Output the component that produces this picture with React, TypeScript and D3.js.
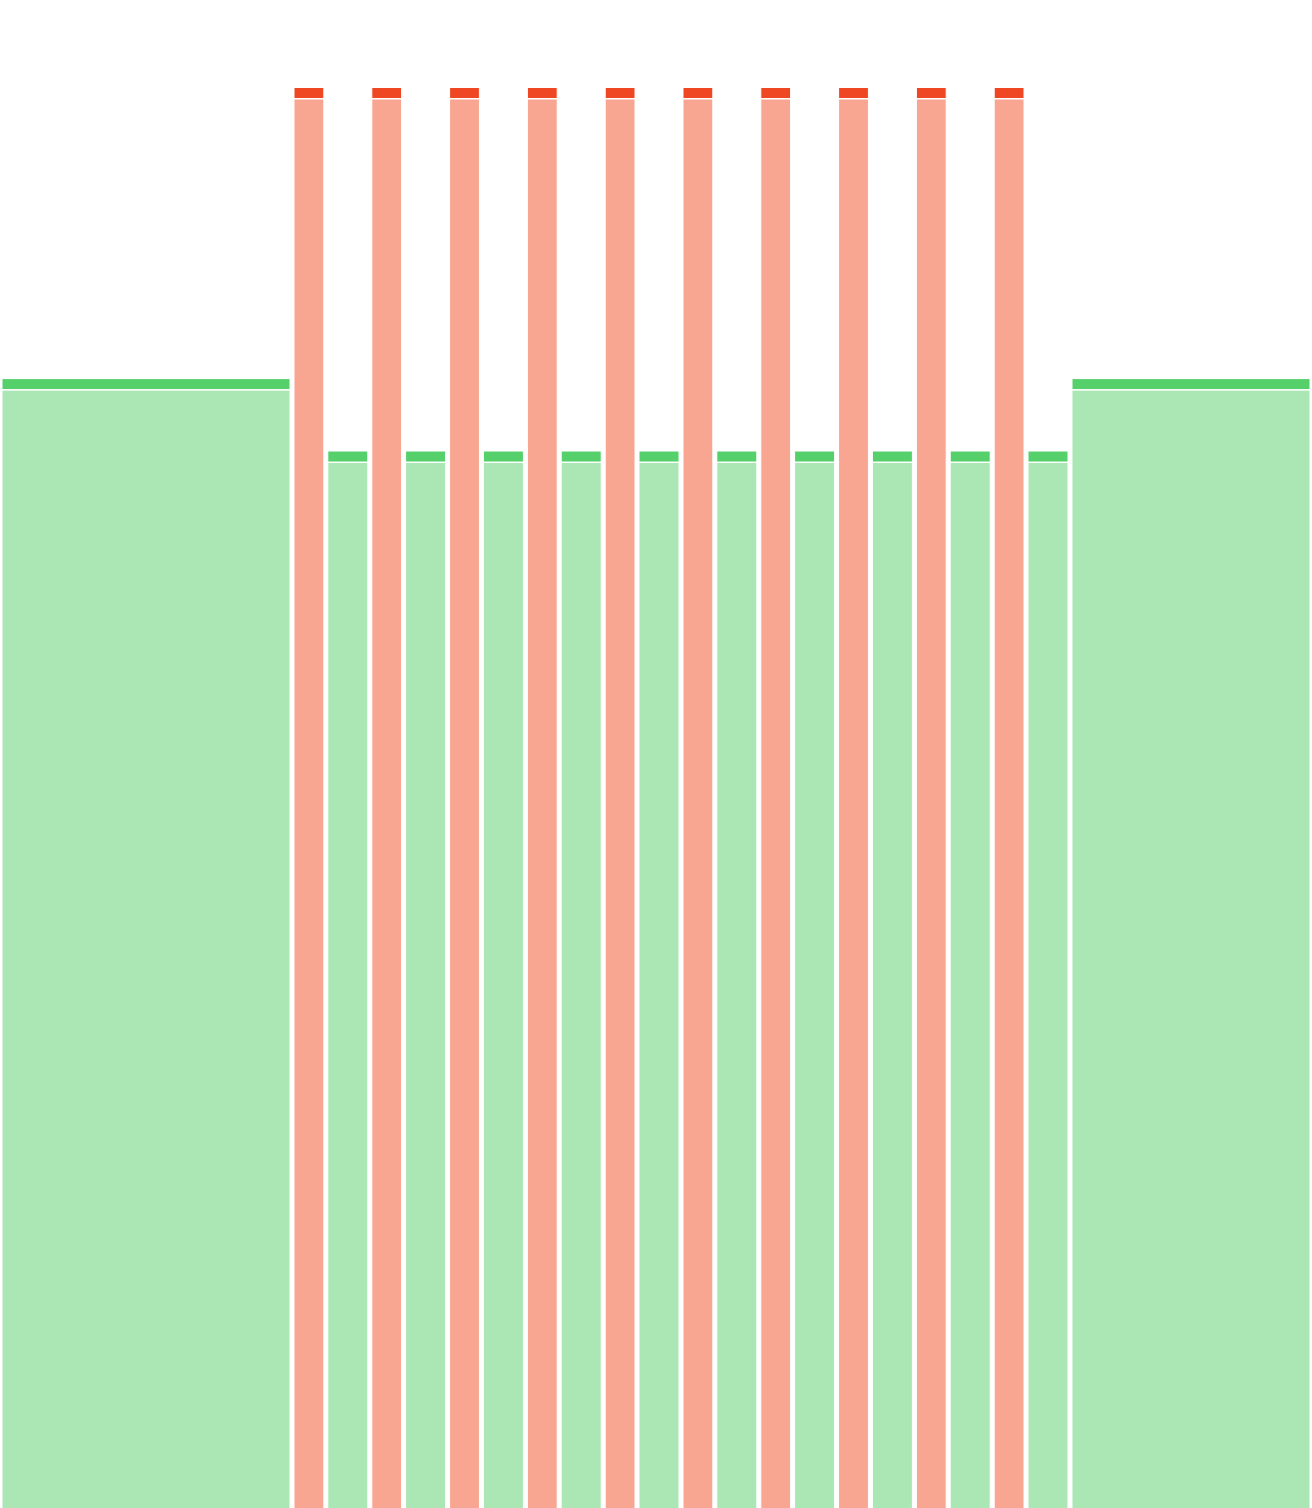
import React from 'react';
import * as d3 from 'd3';

// Segments along the timeline: kind, duration and level
const segmentKinds = [
    'ok',
    'alert', 'ok', 'alert', 'ok', 'alert', 'ok', 'alert', 'ok', 'alert', 'ok',
    'alert', 'ok', 'alert', 'ok', 'alert', 'ok', 'alert', 'ok', 'alert', 'ok',
    'ok',
];
const segmentDurations = [
    292,
    33.8, 44, 33.8, 44, 33.8, 44, 33.8, 44, 33.8, 44,
    33.8, 44, 33.8, 44, 33.8, 44, 33.8, 44, 33.8, 44,
    242,
];
const segmentValues = [
    79.5,
    100, 74.4, 100, 74.4, 100, 74.4, 100, 74.4, 100, 74.4,
    100, 74.4, 100, 74.4, 100, 74.4, 100, 74.4, 100, 74.4,
    79.5,
];

const colors: Record<string, { cap: string; body: string }> = {
    ok: { cap: '#55d06a', body: '#aae7b4' },
    alert: { cap: '#ef4723', body: '#f8a591' },
};

const WIDTH = 1312;
const HEIGHT = 1508;

export default function App() {
    const starts = d3.cumsum([0, ...segmentDurations.slice(0, -1)]);
    const total = d3.sum(segmentDurations);

    const xScale = d3.scaleLinear().domain([0, total]).range([0, WIDTH]);
    const yScale = d3.scaleLinear().domain([0, 100]).range([HEIGHT, 88]);

    const capHeight = 11;
    const inset = 2;

    return (
        <svg
            width={WIDTH}
            height={HEIGHT}
            style={{ position: 'absolute', left: 0, top: 0, display: 'block' }}
        >
            <rect width={WIDTH} height={HEIGHT} fill="#ffffff" />
            {segmentKinds.map((kind, i) => {
                const x0 = xScale(starts[i]) + inset;
                const w = xScale(starts[i] + segmentDurations[i]) - xScale(starts[i]) - inset * 2;
                const top = yScale(segmentValues[i]) - 0.5;
                const c = colors[kind];
                return (
                    <g key={i}>
                        <rect
                            x={x0}
                            y={top + capHeight + 0.5}
                            width={w}
                            height={HEIGHT - top + 20}
                            fill={c.body}
                            stroke="#ffffff"
                            strokeWidth={1}
                        />
                        <rect
                            x={x0}
                            y={top}
                            width={w}
                            height={capHeight}
                            fill={c.cap}
                            stroke="#ffffff"
                            strokeWidth={1}
                        />
                    </g>
                );
            })}
        </svg>
    );
}
